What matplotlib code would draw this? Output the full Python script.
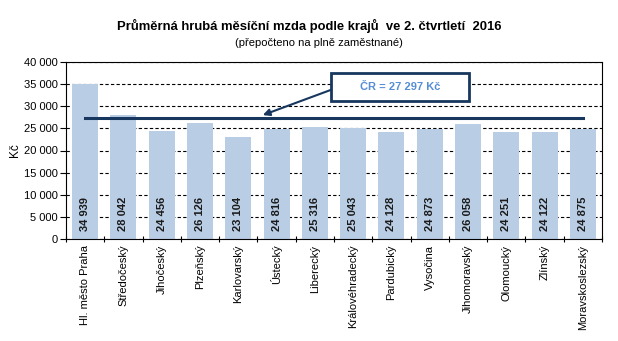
import numpy as np
import matplotlib.pyplot as plt
from matplotlib.patches import Rectangle

plt.rcParams['font.family'] = ['Liberation Sans', 'DejaVu Sans']

regions = ['Hl. město Praha', 'Středočeský', 'Jihočeský', 'Plzeňský', 'Karlovarský',
           'Ústecký', 'Liberecký', 'Královéhradecký', 'Pardubický', 'Vysočina',
           'Jihomoravský', 'Olomoucký', 'Zlínský', 'Moravskoslezský']
wages = [34939, 28042, 24456, 26126, 23104, 24816, 25316,
         25043, 24128, 24873, 26058, 24251, 24122, 24875]
cr_avg = 27297
yticks = [0, 5000, 10000, 15000, 20000, 25000, 30000, 35000, 40000]

def fmt(v):
    return f"{v:,}".replace(",", " ")

fig = plt.figure(figsize=(6.18, 3.41), dpi=100)
ax = fig.add_axes([66 / 618, 1 - 239 / 341, 536 / 618, 177 / 341])

x = np.arange(len(regions))
ax.bar(x, wages, width=0.68, color='#b9cde5', zorder=2)

# celorepublikový průměr
ax.plot([x[0], x[-1]], [cr_avg, cr_avg], color='#17375e', lw=2.2, zorder=3)

for xi, v in zip(x, wages):
    ax.text(xi, 1800, fmt(v), rotation=90, ha='center', va='bottom',
            fontsize=8, fontweight='bold', color='#1a1a1a', zorder=4)

ax.set_xlim(-0.5, len(regions) - 0.5)
ax.set_ylim(0, 40000)
ax.set_yticks(yticks)
ax.set_yticklabels([fmt(t) for t in yticks], fontsize=8)
ax.yaxis.grid(True, linestyle=(0, (3, 2)), color='black', lw=0.8, zorder=1)
ax.set_axisbelow(True)

ax.set_xticks(x)
ax.set_xticklabels(regions, rotation=90, fontsize=8)
ax.tick_params(axis='x', which='major', length=0, pad=4)
ax.set_xticks(np.arange(-0.5, len(regions)), minor=True)
ax.tick_params(axis='x', which='minor', length=4, direction='inout', width=0.8)
ax.tick_params(axis='y', length=4, direction='out', width=0.8, pad=2)

for s in ax.spines.values():
    s.set_linewidth(0.8)

ax.set_ylabel('Kč', fontsize=8.5, labelpad=2)

fig.text(0.5, 1 - 26 / 341, 'Průměrná hrubá měsíční mzda podle krajů  ve 2. čtvrtletí  2016',
         ha='center', va='center', fontsize=9.4, fontweight='bold')
fig.text(0.516, 1 - 43 / 341, '(přepočteno na plně zaměstnané)',
         ha='center', va='center', fontsize=8)

# popisek průměru v rámečku se šipkou
box_x, box_y, box_w, box_h = 6.42, 31200, 3.6, 6300
ax.add_patch(Rectangle((box_x, box_y), box_w, box_h, fc='white', ec='#17375e',
                       lw=2, zorder=5))
ax.text(box_x + box_w / 2, box_y + box_h / 2, 'ČR = 27 297 Kč', ha='center', va='center',
        fontsize=8, fontweight='bold', color='#558ed5', zorder=6)
ax.annotate('', xy=(4.64, 28000), xytext=(box_x, 33700),
            arrowprops=dict(arrowstyle='-|>', color='#17375e', lw=1.5,
                            shrinkA=0, shrinkB=0, mutation_scale=10),
            zorder=5)

fig.savefig('out.png', dpi=100)
